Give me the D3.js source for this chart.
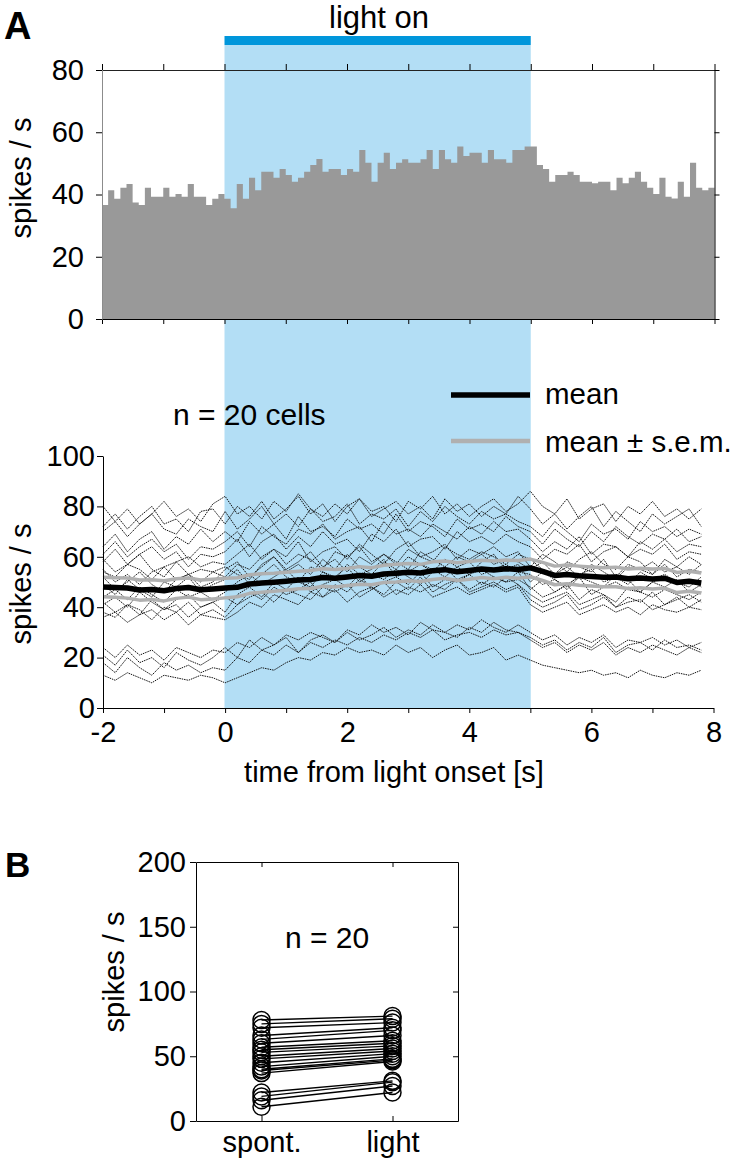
<!DOCTYPE html>
<html><head><meta charset="utf-8">
<script src="https://cdn.jsdelivr.net/npm/d3@7"></script>
<style>body{margin:0;background:#fff}svg{display:block}text{font-family:Arial,"Liberation Sans",Helvetica,sans-serif}</style>
</head><body><svg id="chart" width="736" height="1163"></svg>
<script>
// ---------------- DATA ----------------
const timeTicks = [-2,-1,0,1,2,3,4,5,6,7,8];
const timeLabels = [-2,0,2,4,6,8];
const lightWindow = [0,5];
const histTicks = [0,20,40,60,80];
const traceTicks = [0,20,40,60,80,100];
const histBinStart = -2, histBinWidth = 0.1;
const histRates = [
 36.6,41.4,38.6,42.2,43.4,37.4,36.6,42.2,39.3,39.3,42.2,39.3,40.2,39.3,43.4,39.3,39.3,36.6,38.6,40.2,
 38.6,35.6,43.4,38.6,45.4,41.4,47.3,47.3,45.4,48.2,46.3,44.1,45.4,47.3,49.5,51.4,47.3,48.2,48.2,46.3,
 48.2,47.3,54.3,50.2,44.1,50.2,53.4,48.2,50.2,51.3,50.2,50.2,51.3,54.3,48.2,54.3,51.3,50.2,55.4,52.4,
 53.4,53.4,50.2,54.3,51.3,51.3,50.2,54.3,54.3,55.4,
 55.4,49.5,48.2,44.1,46.3,46.3,47.3,46.3,44.1,44.1,43.6,44.1,44.1,41.4,45.4,43.6,45.4,47.3,44.1,42.2,
 40.2,45.4,39.3,38.7,44.1,39.3,50.2,42.2,41.4,42.2];
const traceStart = -2, traceStep = 0.2;
const cellTraces = [
 [80,74,79,73,77,82,76,79,74,81, 84,77,80,75,82,78,85,79,76,81,77,83,78,80,74,82,79,84,77,81,76,80,83,78,81, 86,80,77,83,75,79,81,74,80,77,82,76,79,75,79],
 [72,77,71,76,80,73,75,70,78,79, 73,80,76,82,75,79,84,77,81,74,80,83,76,79,82,77,80,75,83,78,81,76,80,77,84, 79,73,77,71,76,80,72,78,74,70,77,73,76,79,72],
 [70,74,68,73,77,71,69,75,72,70, 78,71,75,80,73,77,72,79,74,76,81,73,77,75,79,72,78,74,80,76,73,78,75,77,74, 72,68,74,70,66,73,69,71,67,74,70,72,68,71,69],
 [64,69,62,67,70,63,68,65,71,66, 70,66,74,69,73,67,76,70,72,68,75,71,73,69,77,70,74,72,68,75,71,73,70,76,72, 70,65,71,67,64,70,66,72,68,65,69,67,71,66,68],
 [61,66,60,64,67,62,65,59,64,63, 66,70,64,72,68,65,71,69,73,67,70,72,66,74,69,71,68,73,70,67,72,69,74,70,71, 67,62,66,63,68,61,65,64,60,66,63,67,62,65,64],
 [58,63,57,61,64,59,62,56,61,60, 62,67,60,66,69,63,68,64,70,65,67,62,69,66,71,64,67,68,63,70,66,68,65,69,66, 64,59,63,61,65,58,62,64,60,63,61,65,59,62,61],
 [59,54,57,61,55,52,58,60,56,58, 57,61,65,59,63,60,66,58,62,64,59,65,61,57,63,66,60,62,65,59,63,61,64,60,62, 56,61,58,54,59,62,57,55,60,58,53,59,56,60,57],
 [54,52,57,55,51,56,58,53,55,54, 52,57,55,60,63,57,61,59,55,62,60,64,58,61,57,63,60,58,64,61,59,62,60,57,61, 59,55,53,58,56,54,59,52,57,55,58,54,56,53,57],
 [55,50,53,49,54,56,51,53,50,54, 56,53,51,57,60,55,58,62,56,59,54,60,57,61,58,55,62,59,56,60,58,61,57,59,58, 55,58,53,56,52,57,54,51,56,55,53,57,52,55,54],
 [52,47,50,54,49,46,51,53,48,50, 55,58,52,56,60,54,57,53,59,55,61,56,53,58,55,60,57,54,59,56,53,58,61,55,57, 50,54,51,48,53,55,50,52,49,54,51,53,50,48,52],
 [49,45,51,47,44,50,48,52,46,49, 51,55,49,53,57,52,50,56,54,51,57,53,55,59,52,54,57,55,52,56,58,53,55,57,54, 53,49,51,47,52,50,48,53,51,46,50,52,49,51,48],
 [44,47,43,48,45,42,47,44,46,43, 46,50,53,49,52,55,50,48,54,52,56,50,53,51,55,52,49,54,56,51,53,55,52,50,54, 47,51,46,49,52,45,48,50,47,46,50,48,51,46,49],
 [41,44,40,46,42,39,43,45,40,42, 38,45,48,44,50,47,52,46,49,51,48,53,47,50,52,49,54,48,51,50,53,49,52,50,51, 48,44,46,49,43,47,45,42,48,46,44,47,45,43,46],
 [42,38,41,37,43,39,41,36,40,42, 44,41,46,43,48,45,47,50,44,49,46,51,48,45,50,47,52,46,49,51,47,50,48,52,49, 45,42,44,46,41,43,45,40,44,42,46,41,43,45,42],
 [38,36,41,39,35,40,38,42,37,39, 36,41,44,46,42,47,45,43,48,46,49,44,47,50,45,48,46,49,47,51,46,48,50,47,49, 43,40,42,45,39,41,44,40,42,43,39,41,44,40,43],
 [36,38,34,37,39,35,38,33,37,36, 35,38,42,40,45,43,41,46,44,47,42,46,48,44,47,45,49,44,46,48,45,47,49,46,48, 41,38,40,42,37,39,41,38,40,37,41,39,38,40,39],
 [24,20,25,21,23,19,24,22,20,23, 22,26,24,28,25,29,27,30,28,26,31,29,33,30,32,29,34,31,30,33,31,35,32,30,33, 30,27,29,25,28,26,29,24,27,26,28,25,27,24,26],
 [21,17,23,18,20,16,22,19,17,20, 24,20,27,23,25,28,22,27,29,26,30,27,29,32,28,31,29,33,30,28,32,30,34,31,30, 28,25,27,23,26,24,28,22,25,26,23,27,24,25,23],
 [18,14,20,16,13,18,15,17,14,16, 15,20,18,23,21,25,22,26,24,27,25,28,26,29,27,30,28,31,27,29,30,28,31,29,30, 27,24,26,22,25,23,26,21,24,22,25,23,21,24,22],
 [13,11,14,12,10,13,12,11,13,12, 10,12,14,16,15,18,20,19,22,21,24,22,23,21,25,22,24,20,23,25,21,22,24,19,21, 19,17,16,15,14,15,13,14,12,15,13,12,14,13,15]
];
const meanRate = [48.0,47.8,47.6,46.8,47.0,46.5,47.4,47.8,46.9,47.2,
 47.6,47.9,49.2,49.6,49.9,50.3,50.8,51.0,51.8,51.5,52.0,52.6,52.3,53.2,53.5,53.9,53.6,54.5,54.9,54.1,54.6,55.2,54.8,55.3,55.0,
 55.6,54.2,52.6,53.0,52.5,52.2,51.9,52.0,51.3,51.6,51.2,51.5,49.8,50.3,49.6];
const semRate = [3.9,3.9,4.0,4.0,3.9,4.0,3.9,3.8,3.9,3.9,
 3.9,3.8,3.7,3.7,3.6,3.6,3.5,3.6,3.5,3.5,3.4,3.5,3.4,3.4,3.5,3.4,3.4,3.5,3.4,3.5,3.5,3.4,3.5,3.4,3.5,
 3.5,3.6,3.7,3.7,3.8,3.8,3.8,3.9,3.9,3.9,4.0,3.9,4.0,4.0,4.0];
const conditions = ['spont.','light'];
const spontRates = [78,75,72,66,63,60,57,55,53,50,48,45,42,40,39,37,22,19,16,11];
const lightRates = [81,79,76,72,70,66,62,60,58,56,54,52,50,48,47,46,31,30,27,22];
const rateTicks = [0,50,100,150,200];

// ---------------- DRAW ----------------
const FONT = 'Arial, "Liberation Sans", Helvetica, sans-serif';
const svg = d3.select('#chart');

const xTop = d3.scaleLinear().domain([-2,8]).range([102,714.5]);
const yTop = d3.scaleLinear().domain([0,80]).range([319,70]);
const xMid = d3.scaleLinear().domain([-2,8]).range([103,713.5]);
const yMid = d3.scaleLinear().domain([0,100]).range([708,456]);

function styleAxis(g, domainColor, fs){
  g.attr('font-family', FONT).attr('font-size', fs || 29);
  g.selectAll('text').attr('fill','#000');
  g.selectAll('.tick line').attr('stroke','#000').attr('stroke-width',1);
  g.select('.domain').attr('stroke', domainColor || '#000').attr('stroke-width',1);
}
function txt(x,y,s,size,anchor,weight){
  return svg.append('text').attr('x',x).attr('y',y).text(s)
    .attr('font-size',size).attr('text-anchor',anchor||'start')
    .attr('font-weight',weight||'normal').attr('fill','#000');
}

// light shading and bar
svg.append('rect').attr('x',xTop(lightWindow[0])).attr('y',45)
  .attr('width',xTop(lightWindow[1])-xTop(lightWindow[0])).attr('height',yMid(0)-45)
  .attr('fill','#b3def5');
svg.append('rect').attr('x',xTop(lightWindow[0])).attr('y',36)
  .attr('width',xTop(lightWindow[1])-xTop(lightWindow[0])).attr('height',9)
  .attr('fill','#0096db');

// histogram
const histPts = histRates.map((v,i)=>[histBinStart+i*histBinWidth, v]);
histPts.push([histBinStart+histRates.length*histBinWidth, histRates[histRates.length-1]]);
svg.append('path').datum(histPts)
  .attr('d', d3.area().x(d=>xTop(d[0])).y0(yTop(0)).y1(d=>yTop(d[1])).curve(d3.curveStepAfter))
  .attr('fill','#999999');

// top panel axes
styleAxis(svg.append('g').attr('transform',`translate(0,${yTop(80)})`)
  .call(d3.axisTop(xTop).tickValues(timeTicks).tickFormat('').tickSize(6).tickSizeOuter(0)), '#222');
styleAxis(svg.append('g').attr('transform',`translate(0,${yTop(0)})`)
  .call(d3.axisBottom(xTop).tickValues(timeTicks).tickFormat('').tickSize(5).tickSizeOuter(0)));
styleAxis(svg.append('g').attr('transform',`translate(${xTop(8)},0)`)
  .call(d3.axisRight(yTop).tickValues(histTicks).tickFormat('').tickSize(5).tickSizeOuter(0)));
styleAxis(svg.append('g').attr('transform',`translate(${xTop(-2)},0)`)
  .call(d3.axisLeft(yTop).tickValues(histTicks).tickFormat(d=>String(d)).tickSize(6).tickPadding(12).tickSizeOuter(0)), '#8c8c8c');

// traces
const tOf = i => traceStart + i*traceStep;
const line = d3.line().x((d,i)=>xMid(tOf(i))).y(d=>yMid(d));
svg.append('g').selectAll('path').data(cellTraces).join('path')
  .attr('d', d=>line(d)).attr('fill','none').attr('stroke','#111')
  .attr('stroke-width',1).attr('stroke-dasharray','1.5 0.9');
const upper = meanRate.map((m,i)=>m+semRate[i]);
const lower = meanRate.map((m,i)=>m-semRate[i]);
[upper, lower].forEach(arr=>{
  svg.append('path').attr('d', line(arr)).attr('fill','none')
    .attr('stroke','#b0b0b0').attr('stroke-width',3.5).attr('stroke-linejoin','round');
});
svg.append('path').attr('d', line(meanRate)).attr('fill','none')
  .attr('stroke','#000').attr('stroke-width',5.5).attr('stroke-linejoin','round');

// middle axes
styleAxis(svg.append('g').attr('transform',`translate(${xMid(-2)},0)`)
  .call(d3.axisLeft(yMid).tickValues(traceTicks).tickFormat(d=>String(d)).tickSize(6).tickPadding(2).tickSizeOuter(0)));
styleAxis(svg.append('g').attr('transform',`translate(0,${yMid(0)})`)
  .call(d3.axisBottom(xMid).tickValues(timeTicks)
    .tickFormat(d=>timeLabels.includes(d)?String(d):'').tickSize(5).tickPadding(8).tickSizeOuter(0)));

// legend
svg.append('line').attr('x1',451).attr('x2',530).attr('y1',395).attr('y2',395)
  .attr('stroke','#000').attr('stroke-width',5.5);
svg.append('line').attr('x1',451).attr('x2',530).attr('y1',441).attr('y2',441)
  .attr('stroke','#b0b0b0').attr('stroke-width',4.5);
txt(545,404,'mean',29.5);
txt(545,452,'mean \u00b1 s.e.m.',29.5);
txt(173,425,'n = 20 cells',30);

// labels panel A
txt(4,39,'A',38,'start','bold');
txt(379,28,'light on',31,'middle');
svg.append('text').attr('transform','translate(31,178) rotate(-90)').attr('text-anchor','middle')
  .attr('font-size',29).text('spikes / s');
svg.append('text').attr('transform','translate(31,584) rotate(-90)').attr('text-anchor','middle')
  .attr('font-size',29).text('spikes / s');
txt(394,782,'time from light onset [s]',29,'middle');

// ---------------- PANEL B ----------------
const xB = d3.scaleLinear().domain([0.5,2.5]).range([196,458]);
const yB = d3.scaleLinear().domain([0,200]).range([1121,862]);
styleAxis(svg.append('g').attr('transform',`translate(0,${yB(200)})`)
  .call(d3.axisTop(xB).tickValues([1,2]).tickFormat('').tickSize(-5).tickSizeOuter(0)));
styleAxis(svg.append('g').attr('transform',`translate(${xB(2.5)},0)`)
  .call(d3.axisRight(yB).tickValues(rateTicks).tickFormat('').tickSize(-5).tickSizeOuter(0)));
styleAxis(svg.append('g').attr('transform',`translate(0,${yB(0)})`)
  .call(d3.axisBottom(xB).tickValues([1,2]).tickFormat((d,i)=>conditions[i]).tickSize(-5).tickPadding(10).tickSizeOuter(0)));
styleAxis(svg.append('g').attr('transform',`translate(${xB(0.5)},0)`)
  .call(d3.axisLeft(yB).tickValues(rateTicks).tickFormat(d=>String(d)).tickSize(6).tickPadding(4).tickSizeOuter(0)));

const pairs = spontRates.map((s,i)=>({s, l: lightRates[i]}));
svg.append('g').selectAll('line').data(pairs).join('line')
  .attr('x1',xB(1)).attr('x2',xB(2)).attr('y1',d=>yB(d.s)).attr('y2',d=>yB(d.l))
  .attr('stroke','#000').attr('stroke-width',1.4);
svg.append('g').selectAll('circle').data(spontRates).join('circle')
  .attr('cx',xB(1)).attr('cy',d=>yB(d)).attr('r',8.5)
  .attr('fill','none').attr('stroke','#000').attr('stroke-width',1.5);
svg.append('g').selectAll('circle').data(lightRates).join('circle')
  .attr('cx',xB(2)).attr('cy',d=>yB(d)).attr('r',8.5)
  .attr('fill','none').attr('stroke','#000').attr('stroke-width',1.5);

txt(5,877,'B',35,'start','bold');
txt(327,948,'n = 20',30,'middle');
svg.append('text').attr('transform','translate(124,972) rotate(-90)').attr('text-anchor','middle')
  .attr('font-size',29).text('spikes / s');
</script></body></html>
